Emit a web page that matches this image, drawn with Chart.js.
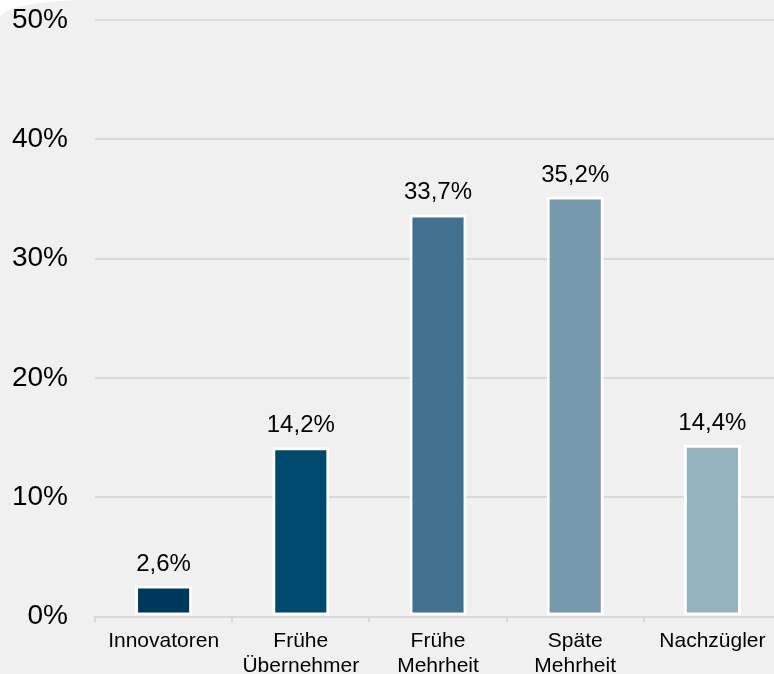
<!DOCTYPE html>
<html lang="de">
<head>
    <meta charset="UTF-8">
    <title>Adopter-Kategorien</title>
    <script src="https://cdn.jsdelivr.net/npm/chart.js"></script>
    <style>
        html, body {
            margin: 0;
            padding: 0;
            background: #ffffff;
        }
        .frame {
            width: 774px;
            height: 674px;
            overflow: hidden;
            background: #f0f0f0;
            border-top-left-radius: 90px 18px;
        }
        .box {
            width: 781px;
            height: 685px;
        }
    </style>
</head>
<body>
    <div class="frame">
        <div class="box"><canvas id="chart"></canvas></div>
    </div>

    <script>
        const categories = [['Innovatoren'], ['Frühe', 'Übernehmer'], ['Frühe', 'Mehrheit'], ['Späte', 'Mehrheit'], ['Nachzügler']];
        const shares = [2.6, 14.2, 33.7, 35.2, 14.4];
        const barColors = ['#00385c', '#004a6f', '#41718e', '#7799ad', '#95b3bf'];
        const yTicks = [0, 10, 20, 30, 40, 50];

        const textFont = "'Liberation Sans', Arial, sans-serif";

        // value labels above each bar, German decimal comma
        const valueLabels = {
            id: 'valueLabels',
            afterDatasetsDraw(chart) {
                const ctx = chart.ctx;
                const meta = chart.getDatasetMeta(0);
                ctx.save();
                ctx.font = '24px ' + textFont;
                ctx.fillStyle = '#000';
                ctx.textAlign = 'center';
                ctx.textBaseline = 'alphabetic';
                meta.data.forEach((bar, i) => {
                    const txt = shares[i].toFixed(1).replace('.', ',') + '%';
                    ctx.fillText(txt, bar.x, bar.y - 15);
                });
                ctx.restore();
            }
        };

        new Chart(document.getElementById('chart'), {
            type: 'bar',
            data: {
                labels: categories,
                datasets: [{
                    data: shares,
                    backgroundColor: barColors,
                    borderColor: '#ffffff',
                    borderWidth: 3,
                    borderSkipped: false,
                    barPercentage: 0.416,
                    categoryPercentage: 1
                }]
            },
            options: {
                responsive: true,
                maintainAspectRatio: false,
                animation: false,
                layout: { padding: { top: 20, left: 0, right: 0, bottom: 0 } },
                plugins: {
                    legend: { display: false },
                    tooltip: { enabled: false }
                },
                scales: {
                    x: {
                        grid: {
                            drawOnChartArea: false,
                            color: '#d9d9d9',
                            lineWidth: 2,
                            tickLength: 6
                        },
                        border: { color: '#d9d9d9', width: 2 },
                        ticks: {
                            color: '#000',
                            padding: 6,
                            maxRotation: 0,
                            font: { family: textFont, size: 21, lineHeight: 1.2 }
                        }
                    },
                    y: {
                        min: 0,
                        max: 50,
                        afterBuildTicks(axis) {
                            axis.ticks = yTicks.map(v => ({ value: v }));
                        },
                        afterFit(axis) {
                            axis.width = 95;
                            axis.paddingTop = 0;
                            axis.paddingBottom = 0;
                        },
                        grid: {
                            color: '#d9d9d9',
                            lineWidth: 2,
                            drawTicks: false
                        },
                        border: { display: false },
                        ticks: {
                            color: '#000',
                            padding: 27,
                            font: { family: textFont, size: 28 },
                            callback: v => v + '%'
                        }
                    }
                }
            },
            plugins: [valueLabels]
        });
    </script>
</body>
</html>
